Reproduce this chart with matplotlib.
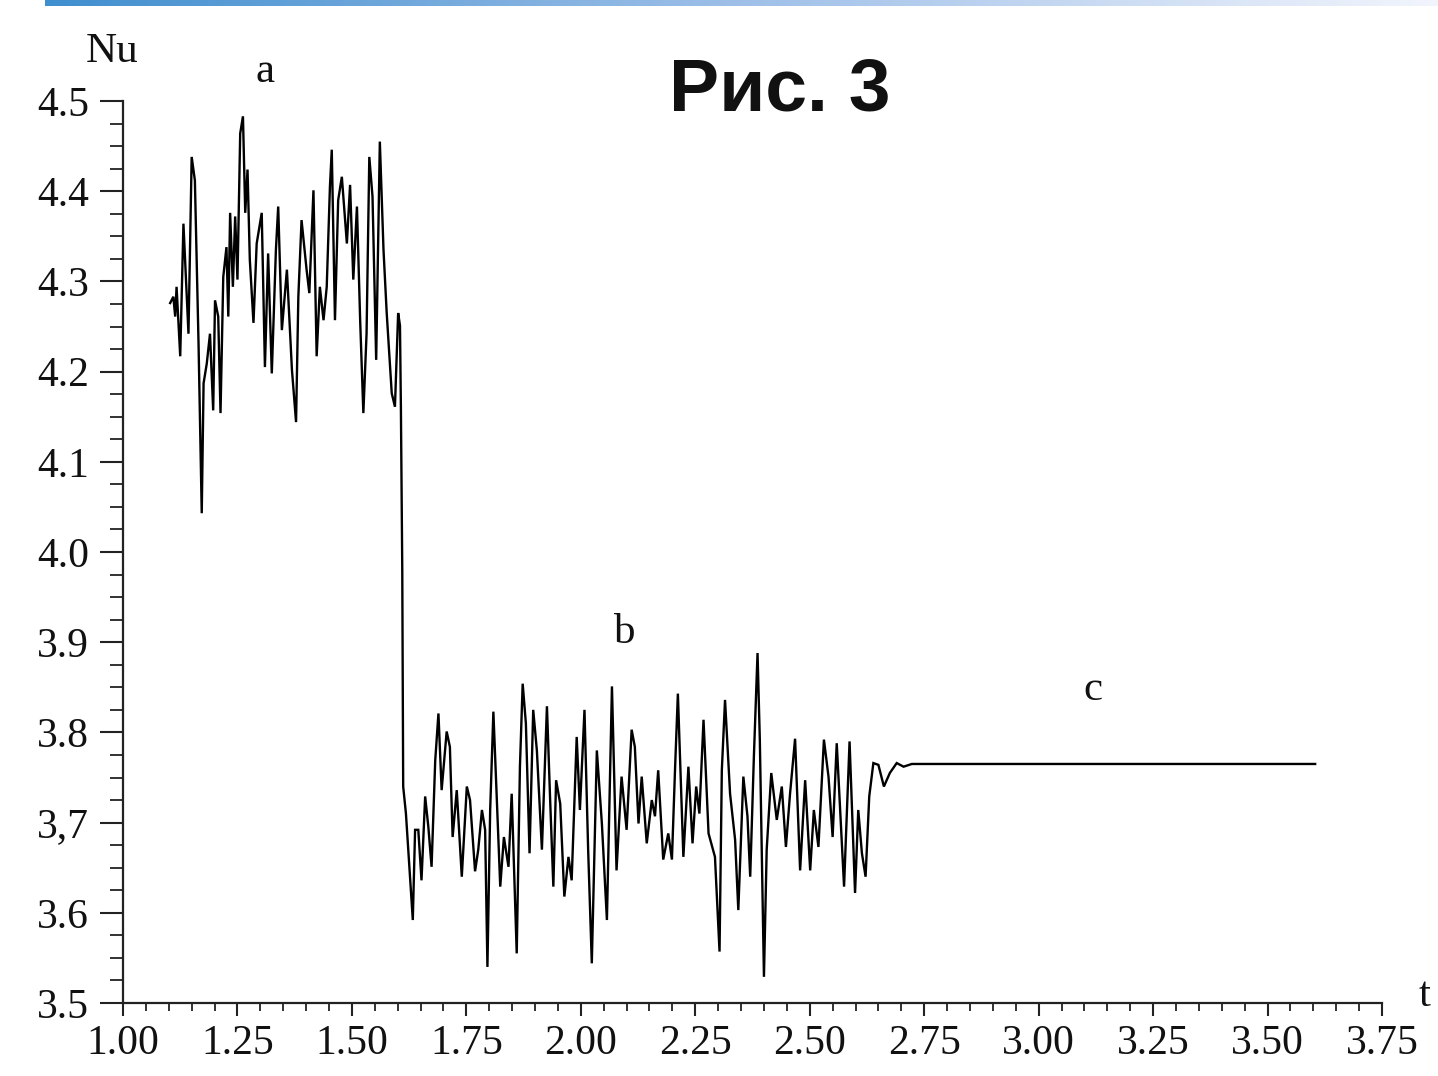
import numpy as np
import matplotlib
matplotlib.use("Agg")
import matplotlib.pyplot as plt
from matplotlib.ticker import MultipleLocator, FixedLocator, FixedFormatter
from matplotlib.colors import LinearSegmentedColormap

# ---- data ----
t_a = [1.103, 1.110, 1.114, 1.117, 1.125, 1.132, 1.143, 1.150, 1.157, 1.165,
       1.172, 1.176, 1.183, 1.190, 1.197, 1.201, 1.208, 1.213, 1.219, 1.226,
       1.230, 1.234, 1.240, 1.245, 1.250, 1.256, 1.262, 1.267, 1.272, 1.277,
       1.285, 1.292, 1.303, 1.310, 1.317, 1.325, 1.334, 1.339, 1.347, 1.358,
       1.369, 1.378, 1.383, 1.390, 1.401, 1.407, 1.416, 1.423, 1.430, 1.438,
       1.445, 1.452, 1.456, 1.463, 1.470, 1.478, 1.489, 1.496, 1.503, 1.511,
       1.518, 1.525, 1.532, 1.538, 1.545, 1.553, 1.561, 1.569, 1.576, 1.587,
       1.594, 1.601, 1.605]
nu_a = [4.276, 4.283, 4.261, 4.294, 4.217, 4.364, 4.242, 4.438, 4.412, 4.231,
        4.043, 4.187, 4.209, 4.242, 4.157, 4.279, 4.261, 4.154, 4.305, 4.338,
        4.261, 4.376, 4.294, 4.372, 4.302, 4.464, 4.483, 4.376, 4.424, 4.324,
        4.254, 4.342, 4.376, 4.205, 4.331, 4.198, 4.335, 4.383, 4.246, 4.313,
        4.202, 4.144, 4.283, 4.368, 4.313, 4.287, 4.401, 4.217, 4.294, 4.257,
        4.294, 4.405, 4.446, 4.257, 4.390, 4.416, 4.342, 4.407, 4.302, 4.383,
        4.257, 4.154, 4.242, 4.438, 4.394, 4.213, 4.455, 4.335, 4.265, 4.176,
        4.161, 4.265, 4.251]

t_b = [1.607, 1.610, 1.612, 1.618, 1.627, 1.633, 1.638, 1.645, 1.652, 1.660,
       1.667, 1.674, 1.682, 1.689, 1.696, 1.707, 1.714, 1.720, 1.729, 1.740,
       1.751, 1.758, 1.769, 1.776, 1.784, 1.791, 1.796, 1.802, 1.809, 1.816,
       1.824, 1.832, 1.842, 1.849, 1.860, 1.867, 1.873, 1.880, 1.888, 1.896,
       1.904, 1.915, 1.926, 1.933, 1.940, 1.946, 1.955, 1.964, 1.973, 1.980,
       1.991, 1.998, 2.008, 2.016, 2.024, 2.035, 2.046, 2.057, 2.068, 2.078,
       2.089, 2.100, 2.111, 2.118, 2.126, 2.133, 2.144, 2.155, 2.162, 2.169,
       2.180, 2.191, 2.199, 2.206, 2.212,
       2.224, 2.235, 2.244, 2.252, 2.259, 2.268, 2.279, 2.293, 2.303, 2.308,
       2.315, 2.326, 2.337, 2.344, 2.355, 2.364, 2.370, 2.378, 2.386, 2.391,
       2.400, 2.406, 2.416, 2.428, 2.439, 2.448, 2.457, 2.468, 2.479, 2.490,
       2.501, 2.509, 2.519, 2.531, 2.541, 2.550, 2.559, 2.575, 2.587, 2.599,
       2.606, 2.614, 2.622, 2.630]
nu_b = [4.160, 3.980, 3.740, 3.710, 3.640, 3.592, 3.692, 3.692, 3.636, 3.729,
        3.695, 3.651, 3.769, 3.821, 3.736, 3.801, 3.784, 3.684, 3.736, 3.640,
        3.740, 3.725, 3.646, 3.670, 3.714, 3.692, 3.540, 3.714, 3.823, 3.732,
        3.629, 3.684, 3.651, 3.732, 3.555, 3.762, 3.854, 3.810, 3.666, 3.825,
        3.780, 3.670, 3.829, 3.725, 3.629, 3.747, 3.721, 3.618, 3.662, 3.636,
        3.795, 3.714, 3.825, 3.670, 3.544, 3.780, 3.699, 3.592, 3.851, 3.647,
        3.751, 3.692, 3.803, 3.784, 3.699, 3.751, 3.677, 3.725, 3.707, 3.758,
        3.659, 3.688, 3.659, 3.762, 3.843,
        3.662, 3.762, 3.677, 3.740, 3.710, 3.814, 3.688, 3.662, 3.557, 3.758,
        3.836, 3.732, 3.681, 3.603, 3.751, 3.707, 3.640, 3.773, 3.888, 3.792,
        3.529, 3.670, 3.755, 3.703, 3.740, 3.673, 3.732, 3.793, 3.647, 3.747,
        3.647, 3.714, 3.673, 3.792, 3.751, 3.684, 3.788, 3.629, 3.790, 3.622,
        3.714, 3.666, 3.640, 3.729]

t_c = [2.639, 2.650, 2.662, 2.675, 2.690, 2.705, 2.723, 3.604]
nu_c = [3.766, 3.764, 3.740, 3.755, 3.766, 3.762, 3.765, 3.765]

x_ticks = [1.00, 1.25, 1.50, 1.75, 2.00, 2.25, 2.50, 2.75, 3.00, 3.25, 3.50, 3.75]
x_labels = ["1.00", "1.25", "1.50", "1.75", "2.00", "2.25", "2.50", "2.75",
            "3.00", "3.25", "3.50", "3.75"]
y_ticks = [3.5, 3.6, 3.7, 3.8, 3.9, 4.0, 4.1, 4.2, 4.3, 4.4, 4.5]
y_labels = ["3.5", "3.6", "3,7", "3.8", "3.9", "4.0", "4.1", "4.2", "4.3", "4.4", "4.5"]

regime_labels = ["a", "b", "c"]
regime_pos_t = [1.310, 2.097, 3.119]
regime_pos_nu = [4.532, 3.911, 3.847]

# ---- figure ----
W, H = 1438, 1076
fig = plt.figure(figsize=(W / 100, H / 100), dpi=100)
fig.patch.set_facecolor("white")

serif = ["Liberation Serif", "DejaVu Serif"]

# top gradient bar
gax = fig.add_axes([45 / W, 1 - 6 / H, 1 - 45 / W, 6 / H])
cmap = LinearSegmentedColormap.from_list(
    "bar", [(0.25, 0.56, 0.81), (0.62, 0.75, 0.91), (0.95, 0.96, 0.99)])
gax.imshow(np.linspace(0, 1, 256)[None, :], aspect="auto", cmap=cmap)
gax.set_axis_off()

ax = fig.add_axes([123 / W, 1 - 1003 / H, (1382 - 123) / W, (1003 - 101) / H])

t_all = t_a + t_b + t_c
nu_all = nu_a + nu_b + nu_c
ax.plot(t_all, nu_all, color="black", lw=1.7, solid_joinstyle="miter")

ax.set_xlim(1.0, 3.75)
ax.set_ylim(3.5, 4.5)
for s in ["top", "right"]:
    ax.spines[s].set_visible(False)
for s in ["left", "bottom"]:
    ax.spines[s].set_linewidth(1.6)
    ax.spines[s].set_color("#222222")

ax.xaxis.set_major_locator(FixedLocator(x_ticks))
ax.xaxis.set_major_formatter(FixedFormatter(x_labels))
ax.xaxis.set_minor_locator(MultipleLocator(0.05))
ax.yaxis.set_major_locator(FixedLocator(y_ticks))
ax.yaxis.set_major_formatter(FixedFormatter(y_labels))
ax.yaxis.set_minor_locator(MultipleLocator(0.025))

ax.tick_params(axis="x", which="major", direction="out", length=9.5, width=1.5,
               pad=6, labelsize=30, colors="#222222")
ax.tick_params(axis="x", which="minor", direction="out", length=5.5, width=1.3,
               colors="#222222")
ax.tick_params(axis="y", which="major", direction="out", length=16.5, width=1.5,
               pad=8, labelsize=30, colors="#222222")
ax.tick_params(axis="y", which="minor", direction="out", length=9.5, width=1.3,
               colors="#222222")
for lab in ax.get_xticklabels() + ax.get_yticklabels():
    lab.set_family(serif)
    lab.set_color("#111111")

for lbl, tx, ny in zip(regime_labels, regime_pos_t, regime_pos_nu):
    ax.text(tx, ny, lbl, fontsize=31, family=serif, ha="center", va="center",
            color="#111111", clip_on=False)

fig.text(112 / W, 1 - 52 / H, "Nu", fontsize=31, family=serif,
         ha="center", va="center", color="#111111")
fig.text(1425 / W, 1 - 996 / H, "t", fontsize=31, family=serif,
         ha="center", va="center", color="#111111")
fig.text(780 / W, 1 - 91 / H, "Рис. 3", fontsize=54, fontweight="bold",
         family=["Liberation Sans", "DejaVu Sans"], ha="center", va="center",
         color="#111111")

fig.savefig("out.png", dpi=100, facecolor="white")
